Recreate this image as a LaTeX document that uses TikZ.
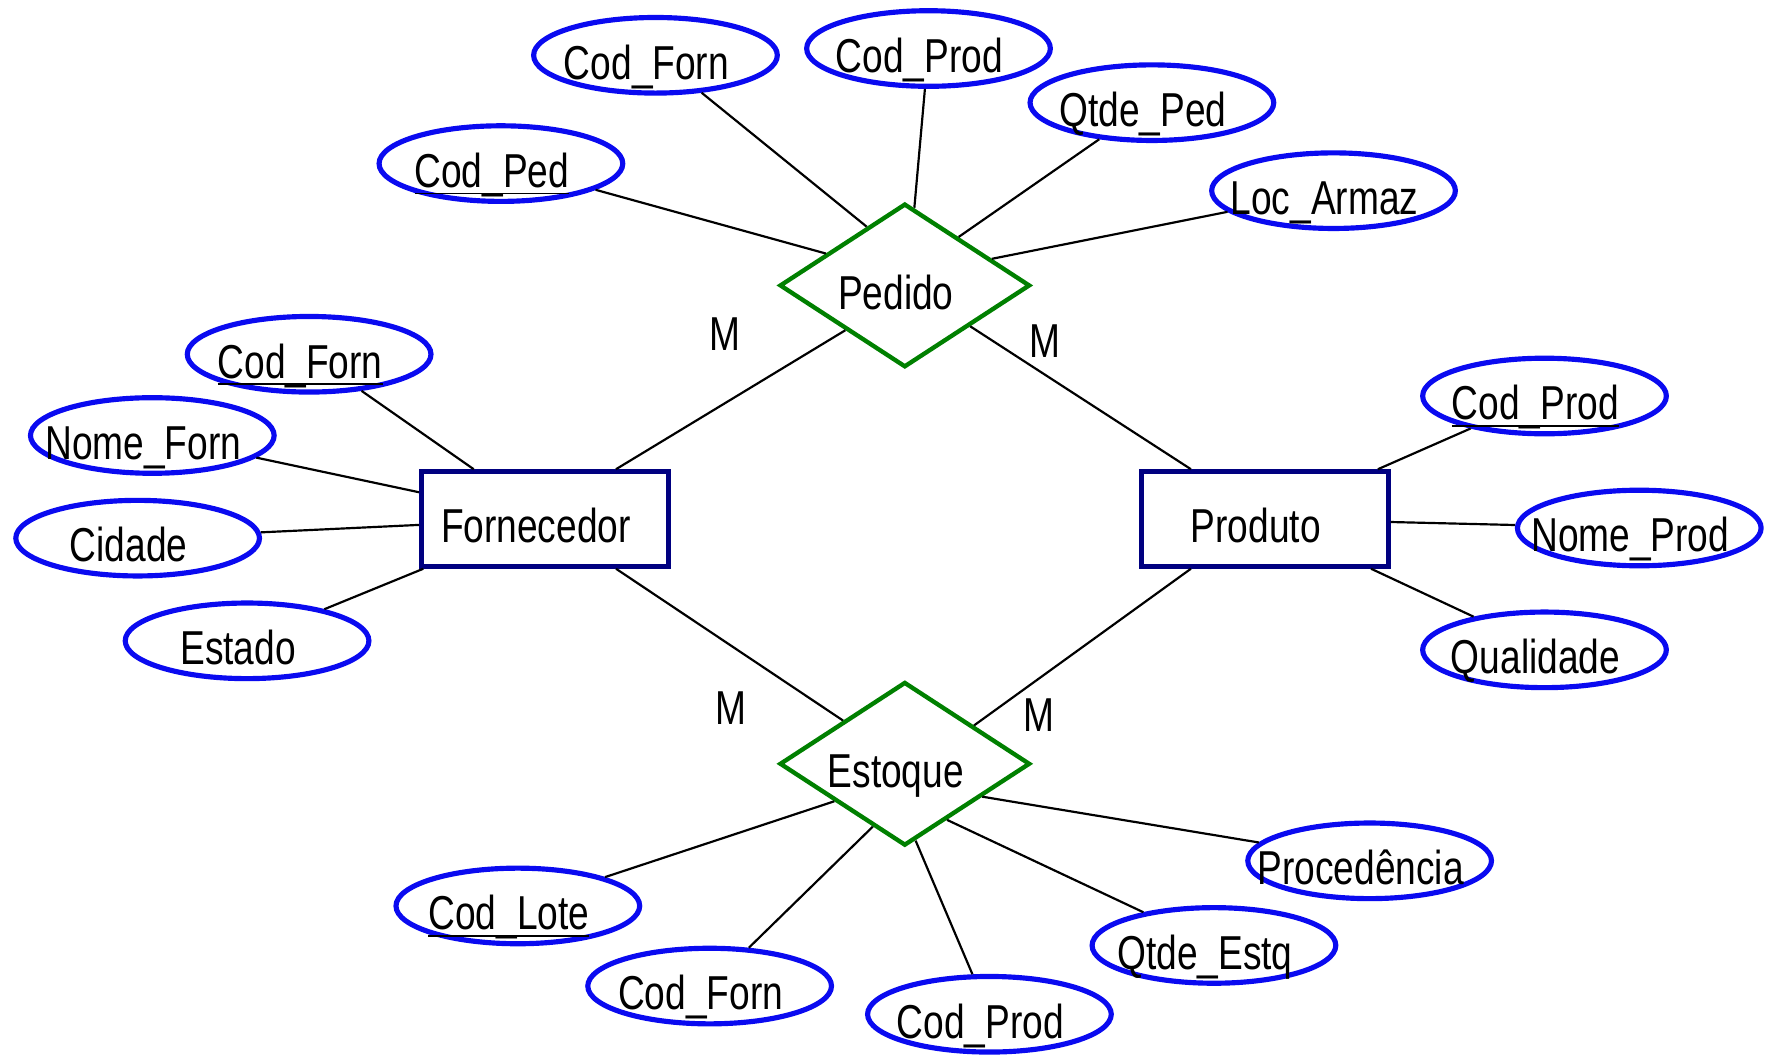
\documentclass[tikz,border=0pt]{standalone}
\usepackage{fontspec}
\setmainfont[FakeStretch=0.78]{Liberation Sans}
\usetikzlibrary{shapes.geometric}
\definecolor{attrblue}{RGB}{10,10,240}
\definecolor{entnavy}{RGB}{0,0,128}
\definecolor{relgreen}{RGB}{0,128,0}
\newcommand{\atxt}[1]{\makebox[0pt]{#1\hspace{0.16cm}}}
\newcommand{\chave}[2]{\underline{#1\smash{\_}#2}}
\tikzset{
  attrib/.style={ellipse, draw=attrblue, line width=1.3pt, minimum width=2.16cm,
    minimum height=0.67cm, inner sep=0pt, text height=12pt, text depth=0pt},
  entity/.style={rectangle, draw=entnavy, line width=1.2pt, minimum width=2.19cm,
    minimum height=0.84cm, inner sep=0pt, text height=12pt, text depth=0pt},
  relat/.style={diamond, draw=relgreen, line width=1.1pt, minimum width=2.22cm,
    minimum height=1.45cm, inner sep=0pt, text height=12pt, text depth=0pt},
  card/.style={inner sep=0pt},
  link/.style={line width=0.55pt}
}
\begin{document}
\begin{tikzpicture}[x=1cm, y=-1cm, font=\fontsize{12pt}{14pt}\selectfont]
  \useasboundingbox (0,0) rectangle (15.68,9.35);
  % relacionamentos e entidades
  \node[relat] (ped) at (8.02,2.53) {\atxt{Pedido}};
  \node[relat] (est) at (8.02,6.77) {\atxt{Estoque}};
  \node[entity] (forn) at (4.83,4.60) {\atxt{Fornecedor}};
  \node[entity] (prod) at (11.21,4.60) {\atxt{Produto}};

  % atributos de Pedido
  \node[attrib] (cped) at (4.44,1.45) {\atxt{\chave{Cod}{Ped}}};
  \node[attrib] (cfp) at (5.81,0.49) {\atxt{Cod\_Forn}};
  \node[attrib] (cpp) at (8.23,0.43) {\atxt{Cod\_Prod}};
  \node[attrib] (qped) at (10.21,0.91) {\atxt{Qtde\_Ped}};
  \node[attrib] (larm) at (11.82,1.69) {\atxt{Loc\_Armaz}};

  % atributos de Fornecedor
  \node[attrib] (cff) at (2.74,3.14) {\atxt{\chave{Cod}{Forn}}};
  \node[attrib] (nforn) at (1.35,3.86) {\atxt{Nome\_Forn}};
  \node[attrib] (cid) at (1.22,4.77) {\atxt{Cidade}};
  \node[attrib] (estad) at (2.19,5.68) {\atxt{Estado}};

  % atributos de Produto
  \node[attrib] (cpr) at (13.69,3.51) {\atxt{\chave{Cod}{Prod}}};
  \node[attrib] (nprod) at (14.53,4.68) {\atxt{Nome\_Prod}};
  \node[attrib] (qual) at (13.69,5.76) {\atxt{Qualidade}};

  % atributos de Estoque
  \node[attrib] (clote) at (4.59,8.03) {\atxt{\chave{Cod}{Lote}}};
  \node[attrib] (cfe) at (6.29,8.74) {\atxt{Cod\_Forn}};
  \node[attrib] (cpe) at (8.77,8.99) {\atxt{Cod\_Prod}};
  \node[attrib] (qestq) at (10.76,8.38) {\atxt{Qtde\_Estq}};
  \node[attrib] (proc) at (12.14,7.63) {\atxt{Procedência}};

  % cardinalidades
  \node[card] (m1) at (6.43,2.96) {M};
  \node[card] (m2) at (9.26,3.02) {M};
  \node[card] (m3) at (6.48,6.28) {M};
  \node[card] (m4) at (9.21,6.34) {M};

  % ligacoes
  \draw[link] (ped.217) -- (forn.35);
  \draw[link] (ped.328) -- (prod.146);
  \draw[link] (est.145) -- (forn.-35);
  \draw[link] (est.29) -- (prod.214);

  \draw[link] (cped) -- (ped.158);
  \draw[link] (cfp) -- (ped.123);
  \draw[link] (cpp) -- (ped.83);
  \draw[link] (qped) -- (ped.42);
  \draw[link] (larm) -- (ped.17);

  \draw[link] (cff) -- (forn);
  \draw[link] (nforn) -- (forn);
  \draw[link] (cid) -- (forn);
  \draw[link] (estad) -- (forn);

  \draw[link] (cpr) -- (prod);
  \draw[link] (nprod) -- (prod);
  \draw[link] (qual) -- (prod);

  \draw[link] (clote) -- (est.208);
  \draw[link] (cfe) -- (est.243);
  \draw[link] (cpe) -- (est.278);
  \draw[link] (qestq) -- (est.307);
  \draw[link] (proc) -- (est.337);
\end{tikzpicture}
\end{document}
